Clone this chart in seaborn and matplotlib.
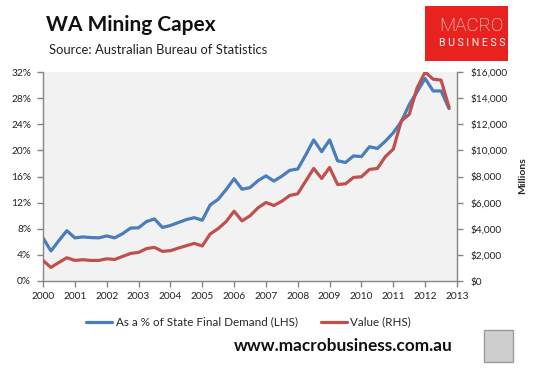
import numpy as np
import pandas as pd
import matplotlib
matplotlib.use("Agg")
import matplotlib.pyplot as plt
from matplotlib.patches import Rectangle
import seaborn as sns

# Quarterly series, 2000Q1 - 2012Q4
quarters = pd.period_range("2000Q1", "2012Q4", freq="Q")

share_of_sfd = [  # % of State Final Demand (LHS)
    6.6, 4.6, 6.2, 7.7, 6.6, 6.75, 6.65, 6.6, 6.9, 6.6, 7.25, 8.1, 8.15,
    9.1, 9.5, 8.2, 8.5, 8.95, 9.4, 9.7, 9.3, 11.65, 12.5, 14.0, 15.65, 14.05,
    14.3, 15.35, 16.1, 15.3, 16.05, 16.95, 17.15, 19.3, 21.6, 19.8, 21.6, 18.4,
    18.15, 19.15, 19.05, 20.55, 20.3, 21.4, 22.7, 24.4, 27.0, 29.0, 31.0, 29.1,
    29.1, 26.4,
]
capex_value = [  # $ millions (RHS)
    1575, 1040, 1420, 1780, 1575, 1630, 1575, 1575, 1700, 1650, 1880, 2110, 2190,
    2480, 2575, 2270, 2320, 2520, 2700, 2880, 2680, 3600, 4010, 4550, 5340, 4600,
    4990, 5600, 6010, 5780, 6110, 6550, 6680, 7650, 8620, 7850, 8690, 7390,
    7440, 7930, 7980, 8540, 8620, 9520, 10100, 12250, 12750, 14800, 16000, 15450,
    15380, 13300,
]

years = list(range(2000, 2014))
left_ticks = list(range(0, 33, 4))
right_ticks = list(range(0, 16001, 2000))

df = pd.DataFrame({
    "t": quarters.year + (quarters.quarter - 1) / 4,
    "share": share_of_sfd,
    "value": capex_value,
})

BLUE = "#4a7ebb"
RED = "#c0504d"
GREY = "#868686"

sns.set_theme(style="white")
plt.rcParams["font.family"] = ["Lato", "DejaVu Sans"]

fig = plt.figure(figsize=(5.43, 3.69), dpi=100)
ax = fig.add_axes([43 / 543, 1 - 281 / 369, (457 - 43) / 543, (281 - 72) / 369])
ax2 = ax.twinx()

sns.lineplot(data=df, x="t", y="share", ax=ax, color=BLUE, linewidth=2.3,
             label="As a % of State Final Demand (LHS)", legend=False)
sns.lineplot(data=df, x="t", y="value", ax=ax2, color=RED, linewidth=2.3,
             label="Value (RHS)", legend=False)

ax.set_facecolor("#f2f2f2")
ax.set_xlim(2000, 2013)
ax.set_ylim(0, 32)
ax2.set_ylim(0, 16000)
ax.set_xticks(years)
ax.set_xticklabels([str(y) for y in years])
ax.set_yticks(left_ticks)
ax.set_yticklabels([f"{v}%" for v in left_ticks])
ax2.set_yticks(right_ticks)
ax2.set_yticklabels([f"${v:,}" for v in right_ticks])
ax.set_xlabel("")
ax.set_ylabel("")
ax2.set_ylabel("")

for a in (ax, ax2):
    for s in a.spines.values():
        s.set_color(GREY)
        s.set_linewidth(1)
    a.spines["top"].set_visible(False)
ax.spines["right"].set_visible(False)
ax2.spines["left"].set_visible(False)
ax2.spines["bottom"].set_visible(False)

ax.tick_params(axis="both", direction="out", length=4, width=1, color=GREY,
               labelsize=7.3, labelcolor="#222222", pad=4.5)
ax.tick_params(axis="x", bottom=True, pad=4)
ax.tick_params(axis="y", left=True)
ax2.tick_params(axis="y", direction="out", length=4, width=1, color=GREY,
                labelsize=7.3, labelcolor="#222222", pad=5.5, right=True)

# legend below the plot
h1, l1 = ax.get_legend_handles_labels()
h2, l2 = ax2.get_legend_handles_labels()
fig.legend(h1 + h2, l1 + l2, loc="center", bbox_to_anchor=(0.458, 0.127),
           ncol=2, frameon=False, fontsize=8.4, handlelength=2.2,
           handletextpad=0.3, columnspacing=2.0)

# titles
fig.text(46 / 543, 1 - 25 / 369, "WA Mining Capex", fontsize=15,
         fontweight="bold", va="center", ha="left", color="#111111")
fig.text(49 / 543, 1 - 50 / 369, "Source: Australian Bureau of Statistics",
         fontsize=9.4, va="center", ha="left", color="#222222")
fig.text(523 / 543, 1 - 176 / 369, "Millions", rotation=90, fontsize=7.5,
         fontweight="bold", va="center", ha="center")

# MacroBusiness logo box
fig.patches.append(Rectangle((425 / 543, 1 - 61 / 369), 83 / 543, 55 / 369,
                             transform=fig.transFigure, facecolor="#e8231f",
                             edgecolor="none"))
fig.text(0.868, 1 - 26 / 369, "MACRO", color="white", fontsize=13.5,
         family="Roboto", fontweight="light", ha="center", va="center")
fig.text(0.869, 1 - 43.5 / 369, "B U S I N E S S", color="white", fontsize=7.6,
         family="Roboto", ha="center", va="center")

# footer
fig.text(453 / 543, 1 - 346 / 369, "www.macrobusiness.com.au", fontsize=12.4,
         fontweight="bold", ha="right", va="center", color="#111111")
fig.patches.append(Rectangle((484 / 543, 1 - 362 / 369), 29 / 543, 32 / 369,
                             transform=fig.transFigure, facecolor="#cfcfcf",
                             edgecolor="#9a9a9a", linewidth=1))

fig.savefig("out.png", dpi=100)
